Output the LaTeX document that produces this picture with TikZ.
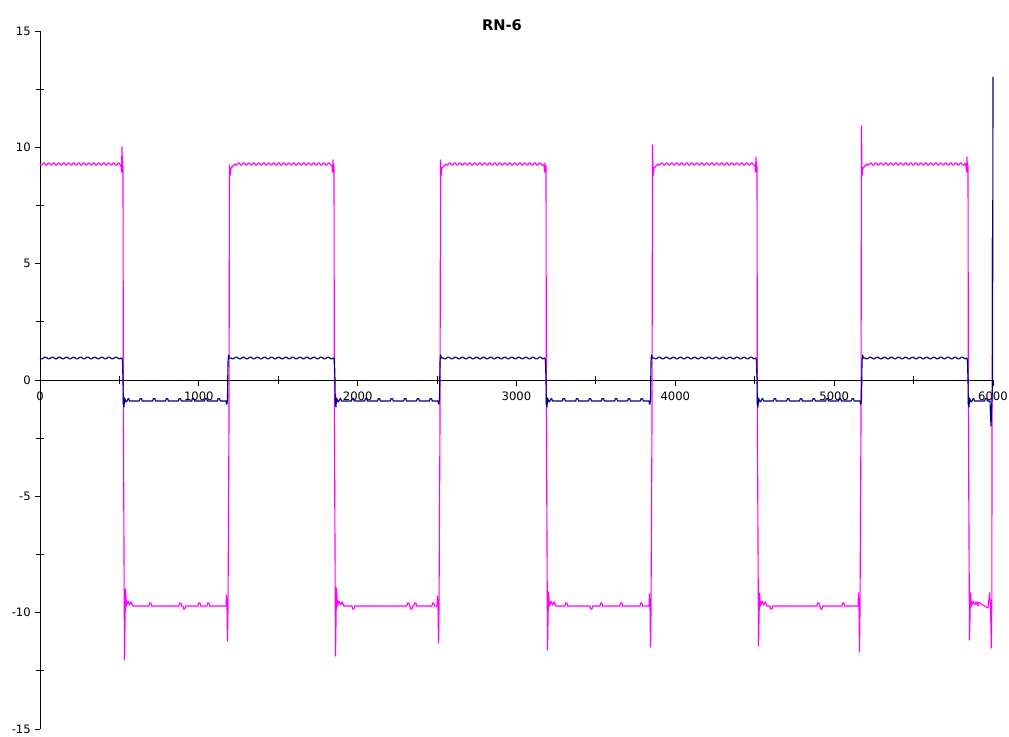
\documentclass[tikz,border=0pt]{standalone}
\usepackage{fontspec}
\setmainfont{DejaVu Sans}
\definecolor{mag}{RGB}{255,0,255}
\definecolor{nav}{RGB}{0,0,128}
% magenta pieces
\newcommand\mhi[2]{-- plot[domain=#1:#2,samples=200] (\x,{164+1.1*sin(72*(\x-#1))})}
\newcommand\mfall[4]{-- (#1-2,166) -- (#1-1.5,172) -- (#1-1,#2) -- (#1-0.5,172) -- (#1,166) -- (#1+0.4,420) -- (#1+1.5,#3) -- (#1+2.5,#4) -- (#1+3.5,606) -- (#1+5,601) -- (#1+6.5,605) -- (#1+8,602) -- (#1+10,606)}
\newcommand\mrise[4]{-- (#1-3,606) -- (#1-2.5,#3) -- (#1-2,606) -- (#1-1.5,#2) -- (#1-1,610) -- (#1,420) -- (#1+0.5,#4) -- (#1+1,176) -- (#1+2,168) -- (#1+4,166) -- (#1+6,164)}
\newcommand\mbu[1]{-- (#1,606) -- (#1+0.5,603) -- (#1+2,603) -- (#1+2.5,606)}
\newcommand\mbd[1]{-- (#1,606) -- (#1+0.5,609) -- (#1+2,609) -- (#1+2.5,606)}
% navy pieces
\newcommand\bhi[2]{-- plot[domain=#1:#2,samples=200] (\x,{358+0.9*sin(51*(\x-#1))})}
\newcommand\blo[2]{-- plot[domain=#1:#2,samples=220] (\x,{401-2.2*(sin(27.7*(\x-#1)+90)>0.85)})}
\newcommand\bfall[1]{-- (#1-1,358) -- (#1-0.5,362) -- (#1,380) -- (#1+0.3,404) -- (#1+1,407) -- (#1+1.5,398) -- (#1+3,402) -- (#1+4,401)}
\newcommand\brise[1]{-- (#1-2,401) -- (#1-1.5,404) -- (#1-1,404) -- (#1-0.5,398) -- (#1,362) -- (#1+0.5,355) -- (#1+1.5,358)}
\tikzset{
  axisline/.style={black,line width=0.6pt},
  tickline/.style={black,line width=0.6pt},
  magline/.style={mag,line width=0.85pt,line join=round},
  navline/.style={nav,line width=0.85pt,line join=round},
  ticklabel/.style={font=\fontsize{8.7}{10}\selectfont,inner sep=0pt},
  titlelabel/.style={font=\fontsize{11}{13}\selectfont\bfseries,inner sep=0pt}
}
\begin{document}
\begin{tikzpicture}[x=0.75pt,y=-0.75pt]
\useasboundingbox (0,0) rectangle (1009,737);
\fill[white] (0,0) rectangle (1009,737);
% title
\node[titlelabel] (title) at (502,25) {RN-6};
% axes
\coordinate (yt) at (40,31);
\coordinate (yb) at (40,729);
\coordinate (xl) at (40,380);
\coordinate (xr) at (993,380);
\draw[axisline] (yt) -- (yb);
\draw[axisline] (xl) -- (xr);
% y ticks and labels
\foreach \v [count=\i from 0] in {15,10,5,0,-5,-10,-15}{
  \pgfmathsetmacro\yy{31+\i*116.333}
  \draw[tickline] (35,\yy) -- (40,\yy);
  \node[ticklabel,anchor=east] (yl\i) at (31,\yy) {\v};
}
\foreach \i in {0,...,5}{
  \pgfmathsetmacro\yy{89.17+\i*116.333}
  \draw[tickline] (36,\yy) -- (44,\yy);
}
% x ticks and labels
\foreach \v [count=\i from 0] in {0,1000,2000,3000,4000,5000,6000}{
  \pgfmathsetmacro\xx{40+\i*158.83}
  \draw[tickline] (\xx,380) -- (\xx,386);
  \node[ticklabel] (xlab\i) at (\xx,396.5) {\v};
}
\foreach \i in {0,...,5}{
  \pgfmathsetmacro\xx{119.4+\i*158.83}
  \draw[tickline] (\xx,376) -- (\xx,384);
}
% magenta trace
\draw[magline] (40,164) \mhi{40}{119}
  \mfall{123}{147}{660}{589}
  \mbu{149} \mbu{179} \mbd{183} \mbu{198} \mbu{207}
  \mrise{229}{641}{595}{165}
  \mhi{235}{331}
  \mfall{334}{160}{656}{588}
  \mbd{352} \mbu{407} \mbd{410} \mbu{414} \mbu{432}
  \mrise{440}{643}{596}{160}
  \mhi{446}{543}
  \mfall{546}{163}{650}{592}
  \mbu{565} \mbd{590} \mbu{600} \mbu{620} \mbu{640}
  \mrise{652}{647}{594}{145}
  \mhi{658}{754}
  \mfall{757}{157}{646}{593}
  \mbd{770} \mbu{817} \mbd{820} \mbu{842}
  \mrise{861}{652}{593}{126}
  \mhi{867}{965}
  \mfall{968}{157}{640}{593}
  -- (978,602) -- (988,608) -- (989.5,593) -- (990.5,606) -- (991.3,648) -- (991.8,600) -- (992.3,237);
% navy trace
\draw[navline] (40,358) \bhi{40}{121}
  \bfall{123}
  \blo{128}{225}
  \brise{228}
  \bhi{231}{332}
  \bfall{335}
  \blo{340}{437}
  \brise{440}
  \bhi{443}{543}
  \bfall{546}
  \blo{551}{648}
  \brise{651}
  \bhi{654}{754}
  \bfall{757}
  \blo{762}{859}
  \brise{862}
  \bhi{865}{965}
  \bfall{968}
  \blo{973}{989}
  -- (990,401) -- (990.5,415) -- (991,426) -- (991.5,412) -- (992.5,385) -- (993,77);
\end{tikzpicture}
\end{document}
